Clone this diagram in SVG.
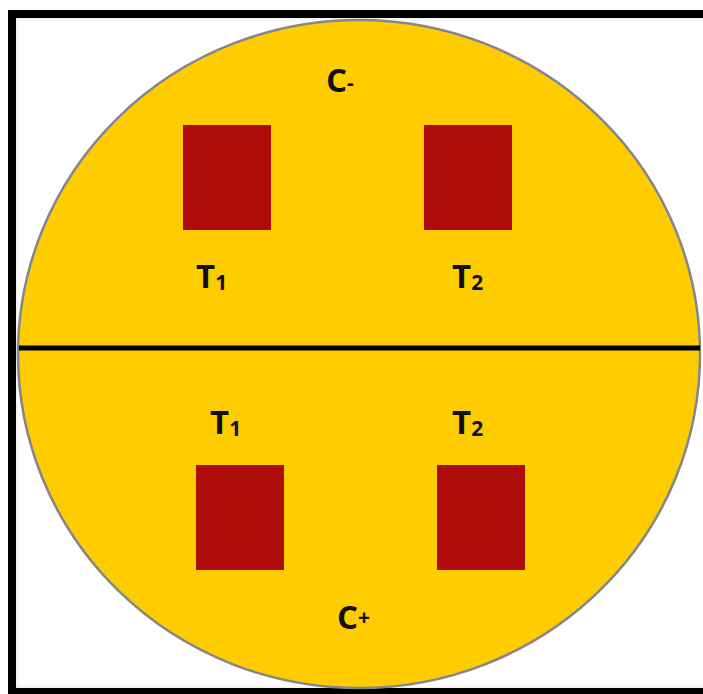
<svg xmlns="http://www.w3.org/2000/svg" width="703" height="694" viewBox="0 0 703 694">
<style>
.lbl{font-family:"Open Sans","Liberation Sans",sans-serif;font-weight:bold;font-size:33px;fill:#111;}
.sub{font-size:21px;}
.well{fill:#AF0B0B;}
</style>
<defs>
<filter id="sh" x="-5%" y="-5%" width="110%" height="110%">
<feGaussianBlur stdDeviation="3"/>
</filter>
<clipPath id="inner"><rect x="16" y="18" width="700" height="670"/></clipPath>
</defs>
<rect x="0" y="0" width="703" height="694" fill="#fff"/>
<g clip-path="url(#inner)">
<rect x="8" y="10" width="710" height="686" fill="none" stroke="#999" stroke-width="10" filter="url(#sh)"/>
</g>
<g id="frame">
<rect x="12" y="14" width="700" height="678" fill="none" stroke="#000" stroke-width="8"/>
</g>
<g id="plate">
<ellipse cx="359" cy="354" rx="341" ry="334" fill="#FFCC00" stroke="#85858f" stroke-width="2.5"/>
</g>
<g id="connectors">
<line x1="19" y1="348" x2="700" y2="348" stroke="#000" stroke-width="5"/>
</g>
<g id="top-T1"><rect class="well" x="183" y="125" width="88" height="105"/></g>
<g id="top-T2"><rect class="well" x="424" y="125" width="88" height="105"/></g>
<g id="bottom-T1"><rect class="well" x="196" y="465" width="88" height="105"/></g>
<g id="bottom-T2"><rect class="well" x="437" y="465" width="88" height="105"/></g>
<g id="labels">
<text class="lbl" x="326" y="92">C<tspan class="sub" dy="-2">-</tspan></text>
<text class="lbl" x="196" y="288">T<tspan class="sub" dy="2">1</tspan></text>
<text class="lbl" x="452" y="288">T<tspan class="sub" dy="2">2</tspan></text>
<text class="lbl" x="210" y="434">T<tspan class="sub" dy="2">1</tspan></text>
<text class="lbl" x="452" y="434">T<tspan class="sub" dy="2">2</tspan></text>
<text class="lbl" x="337" y="629">C<tspan class="sub" dy="-4">+</tspan></text>
</g>
</svg>
